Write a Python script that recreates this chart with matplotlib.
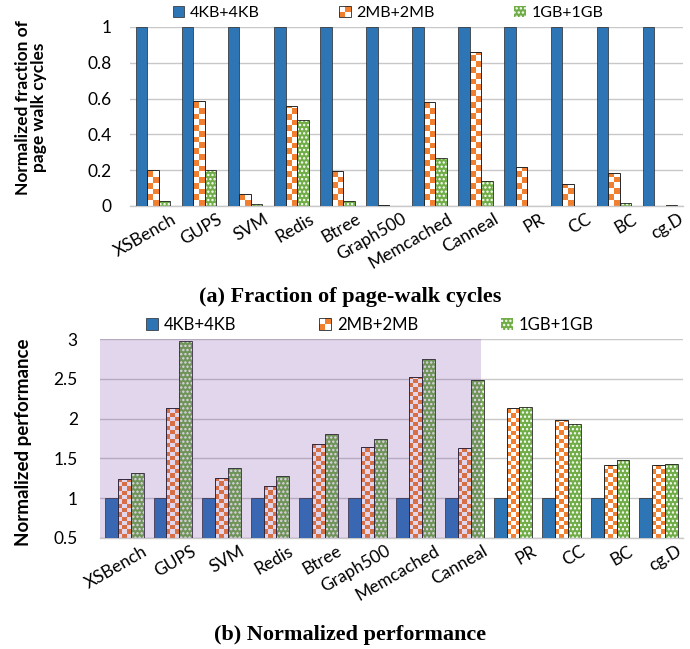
import numpy as np
import matplotlib
matplotlib.use('Agg')
import matplotlib.pyplot as plt
import matplotlib.transforms as mtransforms
from matplotlib.colors import ListedColormap
from matplotlib.patches import Rectangle
from matplotlib.legend_handler import HandlerBase

plt.rcParams['font.family'] = ['Lato', 'DejaVu Sans']
plt.rcParams['hatch.linewidth'] = 1.1

#data
benchmarks = ['XSBench', 'GUPS', 'SVM', 'Redis', 'Btree', 'Graph500',
              'Memcached', 'Canneal', 'PR', 'CC', 'BC', 'cg.D']
series = ['4KB+4KB', '2MB+2MB', '1GB+1GB']

walk_4k = [1, 1, 1, 1, 1, 1, 1, 1, 1, 1, 1, 1]
walk_2m = [0.20, 0.585, 0.069, 0.558, 0.197, 0.005, 0.58, 0.861, 0.217, 0.121, 0.186, 0.0]
walk_1g = [0.03, 0.20, 0.013, 0.483, 0.03, 0.0, 0.27, 0.139, 0.0, 0.0, 0.019, 0.005]

perf_4k = [1, 1, 1, 1, 1, 1, 1, 1, 1, 1, 1, 1]
perf_2m = [1.24, 2.135, 1.255, 1.148, 1.679, 1.642, 2.527, 1.625, 2.132, 1.979, 1.42, 1.416]
perf_1g = [1.317, 2.975, 1.379, 1.276, 1.81, 1.74, 2.749, 2.481, 2.148, 1.934, 1.486, 1.432]
n_shaded = 8  #first 8 benchmarks get the purple background

BLUE = '#2e75b6'
ORANGE = '#f07f30'
GREEN = '#70ad47'
EDGE = '#262626'

fig = plt.figure(figsize=(6.9, 6.49), dpi=100)
ax1 = fig.add_axes([130/690, 1 - 206/649, 553/690, 179/649])
ax2 = fig.add_axes([100/690, 1 - 538/649, 583/690, 199/649])


def checker_fill(ax, bars, cell_px=5.0):
    #orange/white checkerboard clipped to each bar
    cmap = ListedColormap(['white', ORANGE])
    ylo = ax.get_ylim()[0]
    for b in bars:
        x0, w = b.get_x(), b.get_width()
        y0 = max(b.get_y(), ylo)
        h = b.get_y() + b.get_height() - y0
        if h <= 0:
            continue
        p0 = ax.transData.transform((x0, y0))
        p1 = ax.transData.transform((x0 + w, y0 + h))
        wpx, hpx = p1[0] - p0[0], p1[1] - p0[1]
        nx = max(1, int(round(wpx / cell_px)))
        cy = (h / hpx) * (wpx / nx)
        ny = int(np.ceil(h / cy))
        img = np.add.outer(np.arange(ny), np.arange(nx)) % 2
        im = ax.imshow(img, cmap=cmap, extent=(x0, x0 + w, y0, y0 + ny * cy),
                       origin='lower', aspect='auto', interpolation='nearest', zorder=2)
        im.set_clip_path(b)


class CheckerHandler(HandlerBase):
    def create_artists(self, legend, orig_handle, xdescent, ydescent, width, height, fontsize, trans):
        arts = []
        s = height
        x0 = -xdescent
        y0 = -ydescent
        for i in range(2):
            for j in range(2):
                c = ORANGE if (i + j) % 2 == 0 else 'white'
                arts.append(Rectangle((x0 + i * s / 2, y0 + j * s / 2), s / 2, s / 2,
                                      facecolor=c, edgecolor='none', transform=trans))
        arts.append(Rectangle((x0, y0), s, s, facecolor='none', edgecolor=EDGE, lw=0.6, transform=trans))
        return arts


def draw_panel(ax, v4, v2, v1, width, ylim, ypad):
    x = np.arange(len(benchmarks))
    ax.set_xlim(-0.5, len(benchmarks) - 0.5)
    ax.set_ylim(*ylim)
    b4 = ax.bar(x - width, v4, width, color=BLUE, edgecolor=EDGE, lw=0.5, zorder=3)
    #2MB: transparent bar for the outline, checker image underneath
    b2 = ax.bar(x, v2, width, facecolor='none', edgecolor=EDGE, lw=0.7, zorder=3)
    b1 = ax.bar(x + width, v1, width, color=GREEN, edgecolor='none', lw=0, zorder=2)
    ax.bar(x + width, v1, width, facecolor='none', edgecolor='white', hatch='....', lw=0, zorder=2.5)
    ax.bar(x + width, v1, width, facecolor='none', edgecolor=EDGE, lw=0.6, zorder=3)
    ax.set_xlim(-0.5, len(benchmarks) - 0.5)
    ax.set_ylim(*ylim)
    checker_fill(ax, b2)
    ax.set_xlim(-0.5, len(benchmarks) - 0.5)
    ax.set_ylim(*ylim)

    ax.yaxis.grid(True, color='#c8c8c8', lw=1.0, zorder=0)
    ax.set_axisbelow(True)
    for s in ['top', 'right', 'left']:
        ax.spines[s].set_visible(False)
    ax.spines['bottom'].set_color('#c8c8c8')
    ax.spines['bottom'].set_linewidth(1.0)
    ax.tick_params(axis='both', length=0, labelsize=12.5)
    ax.tick_params(axis='y', pad=ypad)
    ax.set_xticks(x)
    ax.set_xticklabels(benchmarks, rotation=30, ha='right', rotation_mode='anchor')
    off = mtransforms.ScaledTranslation(18/100, 0, fig.dpi_scale_trans)
    for lab in ax.get_xticklabels():
        lab.set_transform(lab.get_transform() + off)
    return b4, b2, b1


b4, b2, b1 = draw_panel(ax1, walk_4k, walk_2m, walk_1g, 0.25, (0, 1), 13)
ax1.set_yticks([0, 0.2, 0.4, 0.6, 0.8, 1])
ax1.set_yticklabels(['0', '0.2', '0.4', '0.6', '0.8', '1'])
ax1.set_ylabel('Normalized fraction of\npage walk cycles', fontsize=12.5, fontweight='bold',
               linespacing=1.0)
ax1.yaxis.set_label_coords(-83/553, 0.55)

c4, c2, c1 = draw_panel(ax2, perf_4k, perf_2m, perf_1g, 0.265, (0.5, 3), 16)
ax2.set_yticks([0.5, 1, 1.5, 2, 2.5, 3])
ax2.set_yticklabels(['0.5', '1', '1.5', '2', '2.5', '3'])
ax2.set_ylabel('Normalized performance', fontsize=13.5, fontweight='bold')
ax2.yaxis.set_label_coords(-68/583, 0.48)
#purple overlay on the first group of benchmarks
ax2.axvspan(-0.5, n_shaded - 0.65, color='#6e32a0', alpha=0.2, lw=0, zorder=5)

green_proxy = Rectangle((0, 0), 1, 1, facecolor=GREEN, edgecolor='white', hatch='....', lw=0)
handler = {b2: CheckerHandler(), c2: CheckerHandler()}

leg_kw = dict(ncol=3, frameon=False, handlelength=0.7, handleheight=0.7,
              handletextpad=0.35, borderaxespad=0, borderpad=0, loc='center', columnspacing=5.0)
fig.legend([b4, b2, green_proxy], series, bbox_to_anchor=(388/690, 1 - 13/649),
           fontsize=11.5, handler_map=handler, **leg_kw)
fig.legend([c4, c2, green_proxy], series, bbox_to_anchor=(370/690, 1 - 325/649),
           fontsize=12, handler_map=handler, **leg_kw)

fig.text(350/690, 1 - 297/649, '(a) Fraction of page-walk cycles', ha='center', va='center',
         fontsize=16, fontweight='bold', family='Liberation Serif')
fig.text(350/690, 1 - 635/649, '(b) Normalized performance', ha='center', va='center',
         fontsize=16, fontweight='bold', family='Liberation Serif')

plt.savefig('out.png', dpi=100)
